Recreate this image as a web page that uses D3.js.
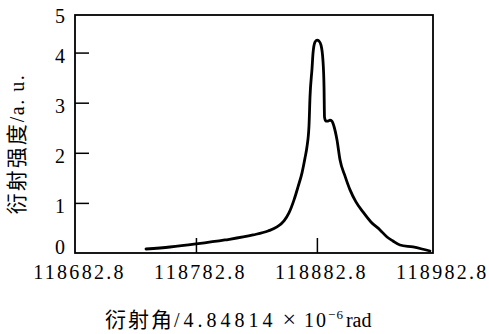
<!DOCTYPE html>
<html>
<head>
<meta charset="utf-8">
<script src="https://cdn.jsdelivr.net/npm/d3@7"></script>
<style>
  body { margin: 0; background: #fff; }
  svg { display: block; }
</style>
</head>
<body>
<div id="chart"></div>
<script>
// diffraction angle (units of 4.84814e-6 rad) and intensity (a.u.)
const angle = [
  118741.5, 118761.3, 118782.8, 118806.8, 118830.0, 118842.4, 118849.8, 118855.6,
  118859.7, 118863.9, 118867.2, 118870.5, 118873.0, 118874.6, 118876.3, 118877.1,
  118878.8, 118879.6, 118881.2, 118882.9, 118884.5, 118886.2, 118887.8, 118888.7,
  118889.1, 118890.3, 118892.0, 118893.6, 118895.3, 118896.9, 118899.4, 118901.9,
  118906.0, 118910.2, 118915.1, 118920.9, 118927.5, 118935.0, 118940.8, 118945.7,
  118951.5, 118962.3, 118969.7, 118976.3
];
const intensity = [
  0.08, 0.12, 0.18, 0.26, 0.36, 0.44, 0.52, 0.64,
  0.80, 1.06, 1.32, 1.60, 1.90, 2.12, 2.55, 3.11,
  3.69, 3.99, 4.21, 4.25, 4.23, 4.15, 3.85, 3.31,
  2.71, 2.63, 2.63, 2.65, 2.63, 2.53, 2.26, 1.86,
  1.54, 1.26, 1.02, 0.82, 0.62, 0.46, 0.32, 0.24,
  0.16, 0.12, 0.08, 0.04
];
const xTicks = [118682.8, 118782.8, 118882.8, 118982.8];
const yTicks = [0, 1, 2, 3, 4, 4.75];
const yTickLabels = ["0", "1", "2", "3", "4", "5"];

const margin = { top: 15, right: 56, bottom: 81, left: 75 };
const W = 489, H = 334;
const width = W - margin.left - margin.right;
const height = H - margin.top - margin.bottom;

const serif = "'Liberation Serif', 'Times New Roman', serif";
const cjk = "'Noto Sans CJK SC', sans-serif";

const svg = d3.select("#chart").append("svg")
  .attr("width", W)
  .attr("height", H);
const g = svg.append("g")
  .attr("transform", "translate(" + margin.left + "," + margin.top + ")");

const x = d3.scaleLinear()
  .domain([118682.8, 118978.8])
  .range([0, width]);
const y = d3.scaleLinear()
  .domain([0, 4.75])
  .range([height, 0]);

// x axis
const xAxis = g.append("g")
  .attr("transform", "translate(0," + height + ")")
  .call(d3.axisBottom(x).tickValues(xTicks).tickSizeInner(-15).tickSizeOuter(0).tickPadding(12)
    .tickFormat(d => d.toFixed(1)));
xAxis.select(".domain").remove();
xAxis.selectAll(".tick line")
  .attr("stroke", "#000").attr("stroke-width", 1.5)
  .attr("display", (d, i) => (i === 0 || i === xTicks.length - 1) ? "none" : null);
xAxis.selectAll(".tick text")
  .attr("fill", "#000")
  .attr("dx", 4)
  .style("font-family", serif)
  .style("font-size", "20px")
  .style("letter-spacing", "2.3px");

// y axis
const yAxis = g.append("g")
  .call(d3.axisLeft(y).tickValues(yTicks).tickSizeInner(-14).tickSizeOuter(0).tickPadding(10)
    .tickFormat((d, i) => yTickLabels[i]));
yAxis.select(".domain").remove();
yAxis.selectAll(".tick line")
  .attr("stroke", "#000").attr("stroke-width", 1.5)
  .attr("display", (d, i) => (i === 0 || i === yTicks.length - 1) ? "none" : null);
yAxis.selectAll(".tick text")
  .attr("fill", "#000")
  .attr("dy", (d, i) => i === 0 ? "0px" : (i === yTicks.length - 1 ? "7px" : "10px"))
  .style("font-family", serif)
  .style("font-size", "20px");

// frame
g.append("rect")
  .attr("x", 0).attr("y", 0)
  .attr("width", width).attr("height", height)
  .attr("fill", "none")
  .attr("stroke", "#000")
  .attr("stroke-width", 1.8);

// curve
const pts = angle.map((a, i) => [a, intensity[i]]);
const line = d3.line()
  .x(d => x(d[0]))
  .y(d => y(d[1]))
  .curve(d3.curveMonotoneX);
g.append("path")
  .datum(pts)
  .attr("fill", "none")
  .attr("stroke", "#000")
  .attr("stroke-width", 2.8)
  .attr("stroke-linejoin", "round")
  .attr("stroke-linecap", "round")
  .attr("d", line);

// axis titles
const xt = svg.append("text")
  .attr("x", 105).attr("y", 327)
  .attr("fill", "#000")
  .style("font-size", "20px");
xt.append("tspan").style("font-family", cjk).style("font-size", "21px").style("letter-spacing", "2px").text("衍射角");
xt.append("tspan").style("font-family", serif).style("letter-spacing", "4px").text("/4.84814");
xt.append("tspan").style("font-family", serif).style("font-size", "24px").attr("dx", 6).text("×");
xt.append("tspan").style("font-family", serif).style("letter-spacing", "2px").attr("dx", 8).text("10");
xt.append("tspan").style("font-family", serif).style("font-size", "13px").style("letter-spacing", "1px").attr("dy", -8).text("−6");
xt.append("tspan").style("font-family", serif).attr("dx", 2).attr("dy", 8).text("rad");

const yt = svg.append("text")
  .attr("transform", "translate(24,144) rotate(-90)")
  .attr("text-anchor", "middle")
  .attr("fill", "#000")
  .style("font-size", "20px");
yt.append("tspan").style("font-family", cjk).style("font-size", "21px").style("letter-spacing", "2px").text("衍射强度");
yt.append("tspan").style("font-family", serif).style("letter-spacing", "1.5px").text("/a. u.");
</script>
</body>
</html>
